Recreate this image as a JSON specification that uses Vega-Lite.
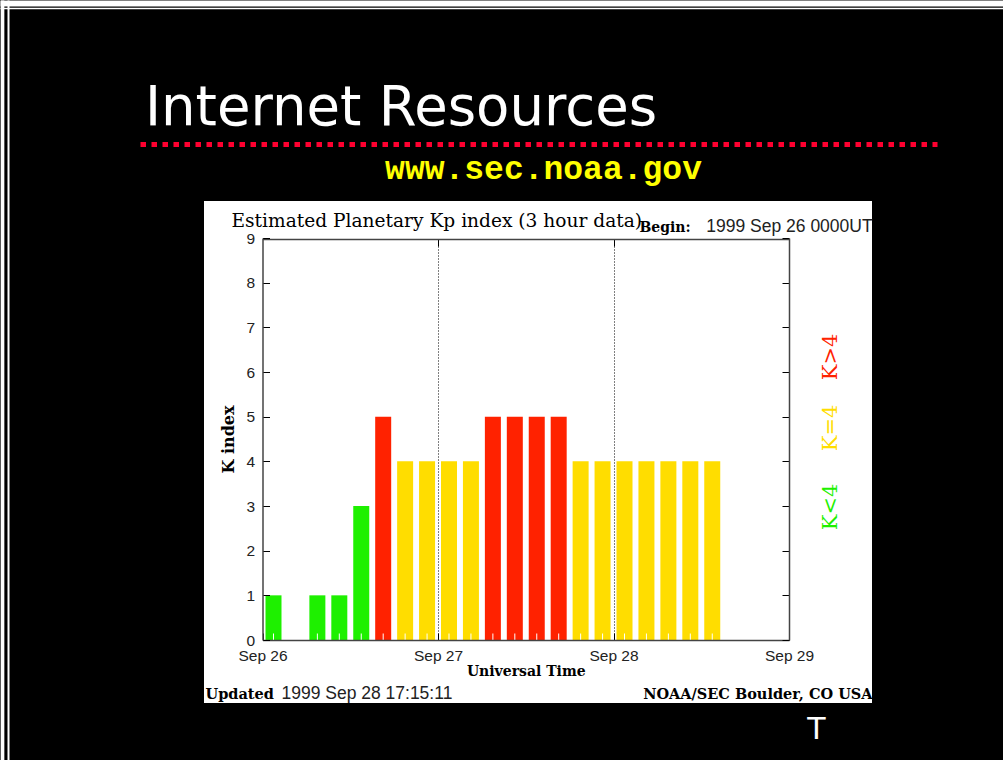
{
  "$schema": "https://vega.github.io/schema/vega-lite/v6.json",
  "width": 668,
  "height": 502,
  "autosize": {"type": "none"},
  "padding": {"left": 204, "top": 201, "right": 131, "bottom": 57},
  "background": "black",
  "title": {"text": "Internet Resources", "anchor": "start", "frame": "group", "dx": -59, "offset": 8, "font": "DejaVu Sans", "fontSize": 54.5, "fontWeight": "normal", "color": "white"},
  "config": {
    "view": {"fill": "white", "stroke": null},
    "axis": {"labelOverlap": false, "labelFlush": false, "labelLimit": 0, "titleLimit": 0, "labelBound": false}
  },
  "data": {"values": [
    {"time": "1999-09-26T00:00:00Z", "kp": 1},
    {"time": "1999-09-26T03:00:00Z", "kp": 0},
    {"time": "1999-09-26T06:00:00Z", "kp": 1},
    {"time": "1999-09-26T09:00:00Z", "kp": 1},
    {"time": "1999-09-26T12:00:00Z", "kp": 3},
    {"time": "1999-09-26T15:00:00Z", "kp": 5},
    {"time": "1999-09-26T18:00:00Z", "kp": 4},
    {"time": "1999-09-26T21:00:00Z", "kp": 4},
    {"time": "1999-09-27T00:00:00Z", "kp": 4},
    {"time": "1999-09-27T03:00:00Z", "kp": 4},
    {"time": "1999-09-27T06:00:00Z", "kp": 5},
    {"time": "1999-09-27T09:00:00Z", "kp": 5},
    {"time": "1999-09-27T12:00:00Z", "kp": 5},
    {"time": "1999-09-27T15:00:00Z", "kp": 5},
    {"time": "1999-09-27T18:00:00Z", "kp": 4},
    {"time": "1999-09-27T21:00:00Z", "kp": 4},
    {"time": "1999-09-28T00:00:00Z", "kp": 4},
    {"time": "1999-09-28T03:00:00Z", "kp": 4},
    {"time": "1999-09-28T06:00:00Z", "kp": 4},
    {"time": "1999-09-28T09:00:00Z", "kp": 4},
    {"time": "1999-09-28T12:00:00Z", "kp": 4}
  ]},
  "layer": [
    {
      "mark": {"type": "bar", "width": 16, "xOffset": 11},
      "encoding": {
        "x": {"field": "time", "type": "temporal",
          "scale": {"type": "utc", "domain": [{"year": 1999, "month": 9, "date": 26, "utc": true}, {"year": 1999, "month": 9, "date": 29, "utc": true}], "range": [58.5, 585], "nice": false, "padding": 0},
          "axis": {"orient": "bottom", "offset": -63,
            "values": [{"year": 1999, "month": 9, "date": 26, "utc": true}, {"year": 1999, "month": 9, "date": 27, "utc": true}, {"year": 1999, "month": 9, "date": 28, "utc": true}, {"year": 1999, "month": 9, "date": 29, "utc": true}],
            "labelExpr": "utcFormat(datum.value, '%b %d')",
            "tickSize": -7, "tickColor": "black", "tickWidth": 1,
            "domainColor": "#444", "domainWidth": 1.5,
            "labelFont": "Liberation Sans", "labelFontSize": 15.5, "labelColor": "#222", "labelPadding": 15,
            "grid": false,
            "title": "Universal Time", "titleFont": "DejaVu Serif", "titleFontSize": 14, "titleFontWeight": "bold", "titleColor": "black", "titlePadding": 1,
            "zindex": 1}},
        "y": {"field": "kp", "type": "quantitative",
          "scale": {"domain": [0, 9], "range": [439, 37], "nice": false, "padding": 0},
          "axis": {"orient": "left", "offset": -58.5, "values": [0, 1, 2, 3, 4, 5, 6, 7, 8, 9],
            "tickSize": -7, "tickColor": "black",
            "domainColor": "#444", "domainWidth": 1.5,
            "labelFont": "Liberation Sans", "labelFontSize": 15.5, "labelColor": "#222", "labelPadding": 15,
            "grid": false,
            "title": "K index", "titleFont": "DejaVu Serif", "titleFontSize": 16, "titleFontWeight": "bold", "titleColor": "black", "titlePadding": 9,
            "zindex": 1}},
        "color": {"condition": [{"test": "datum.kp > 4", "value": "#ff2200"}, {"test": "datum.kp == 4", "value": "#ffdd00"}], "value": "#1ef000"}
      }
    },
    {
      "mark": {"type": "tick", "orient": "vertical", "color": "white", "size": 13, "thickness": 1, "xOffset": 11, "opacity": 1},
      "encoding": {
        "x": {"field": "time", "type": "temporal",
          "scale": {"type": "utc", "domain": [{"year": 1999, "month": 9, "date": 26, "utc": true}, {"year": 1999, "month": 9, "date": 29, "utc": true}], "range": [58.5, 585], "nice": false, "padding": 0},
          "axis": {"orient": "top", "offset": -38,
            "values": [{"year": 1999, "month": 9, "date": 27, "utc": true}, {"year": 1999, "month": 9, "date": 28, "utc": true}, {"year": 1999, "month": 9, "date": 28, "hours": 3, "minutes": 29, "utc": true}, {"year": 1999, "month": 9, "date": 28, "hours": 12, "minutes": 37, "utc": true}],
            "tickSize": -7, "tickColor": "black",
            "tickOpacity": {"condition": {"test": "datum.value > utc(1999,8,28,1)", "value": 0}, "value": 1},
            "domainColor": "#444", "domainWidth": 1.5,
            "grid": true, "gridColor": "black", "gridDash": [1, 2], "gridWidth": 1,
            "gridOpacity": {"condition": {"test": "datum.value > utc(1999,8,28,1)", "value": 0}, "value": 1},
            "labelExpr": "datum.value > utc(1999,8,28,12) ? '1999 Sep 26 0000UT' : datum.value > utc(1999,8,28,1) ? 'Begin:' : ''",
            "labelAlign": "left", "labelBaseline": "alphabetic", "labelPadding": 15,
            "labelFont": {"condition": {"test": "datum.value > utc(1999,8,28,12)", "value": "Liberation Sans"}, "value": "DejaVu Serif"},
            "labelFontSize": {"condition": {"test": "datum.value > utc(1999,8,28,12)", "value": 17.5}, "value": 14},
            "labelFontWeight": {"condition": {"test": "datum.value > utc(1999,8,28,12)", "value": "normal"}, "value": "bold"},
            "labelColor": {"condition": {"test": "datum.value > utc(1999,8,28,12)", "value": "#222"}, "value": "black"},
            "title": "Estimated Planetary Kp index (3 hour data)", "titleX": 27, "titleY": -13, "titleAlign": "left", "titleBaseline": "alphabetic", "titleAngle": 0,
            "titleFont": "DejaVu Serif", "titleFontSize": 18.6, "titleFontWeight": "normal", "titleColor": "black",
            "zindex": 1}},
        "y": {"datum": 0, "type": "quantitative",
          "scale": {"domain": [0, 9], "range": [439, 37], "nice": false, "padding": 0},
          "axis": {"orient": "right", "offset": -83, "values": [0, 1, 2, 3, 4, 5, 6, 7, 8, 9, 2.99, 4.76, 6.35],
            "tickSize": -7, "tickColor": "black",
            "tickOpacity": {"condition": {"test": "datum.value % 1 == 0", "value": 1}, "value": 0},
            "domainColor": "#444", "domainWidth": 1.5,
            "labelExpr": "datum.value == 6.35 ? 'K>4' : datum.value == 4.76 ? 'K=4' : datum.value == 2.99 ? 'K<4' : ''",
            "labelAngle": -90, "labelAlign": "center", "labelBaseline": "middle", "labelPadding": 48,
            "labelFont": "DejaVu Serif", "labelFontSize": 21,
            "labelColor": {"condition": [{"test": "datum.value == 6.35", "value": "#ff2200"}, {"test": "datum.value == 4.76", "value": "#ffdd00"}], "value": "#1ef000"},
            "grid": false,
            "title": "T", "titleAngle": 0, "titleX": 27, "titleY": 528, "titleAlign": "center", "titleBaseline": "middle",
            "titleFont": "DejaVu Sans", "titleFontSize": 30, "titleFontWeight": "normal", "titleColor": "white",
            "zindex": 1}}
      }
    },
    {
      "mark": {"type": "point", "opacity": 0},
      "encoding": {
        "x": {"field": "time", "type": "temporal",
          "scale": {"type": "utc", "domain": [{"year": 1999, "month": 9, "date": 26, "utc": true}, {"year": 1999, "month": 9, "date": 29, "utc": true}], "range": [-64, 733], "nice": false, "padding": 0},
          "axis": {"orient": "bottom", "offset": -559, "domain": true, "domainColor": "#ff0030", "domainWidth": 5, "domainDash": [5.5, 5.5],
            "ticks": false, "labels": false, "grid": false,
            "title": "www.sec.noaa.gov", "titleFont": "Liberation Mono", "titleFontSize": 33, "titleFontWeight": "bold", "titleColor": "#ffff00",
            "titlePadding": 8, "titleX": 339, "titleAlign": "center", "titleBaseline": "top"}}
      }
    },
    {
      "mark": {"type": "point", "opacity": 0},
      "encoding": {
        "x": {"field": "time", "type": "temporal",
          "scale": {"type": "utc", "domain": [{"year": 1999, "month": 9, "date": 26, "utc": true}, {"year": 1999, "month": 9, "date": 29, "utc": true}], "range": [-204, 799], "nice": false, "padding": 0},
          "axis": {"orient": "top", "offset": -512,
            "values": [{"year": 1999, "month": 9, "date": 26, "hours": 0, "minutes": 8, "utc": true}, {"year": 1999, "month": 9, "date": 26, "hours": 0, "minutes": 33, "utc": true}, {"year": 1999, "month": 9, "date": 26, "hours": 14, "minutes": 43, "utc": true}, {"year": 1999, "month": 9, "date": 26, "hours": 20, "minutes": 10, "utc": true}, {"year": 1999, "month": 9, "date": 28, "hours": 14, "minutes": 36, "utc": true}],
            "domain": false, "ticks": false,
            "grid": true, "gridColor": "white",
            "gridWidth": {"condition": {"test": "datum.value < utc(1999,8,26,0,20)", "value": 3.7}, "value": 2},
            "gridOpacity": {"condition": {"test": "datum.value < utc(1999,8,26,1)", "value": 1}, "value": 0},
            "labelExpr": "datum.value < utc(1999,8,26,1) ? '' : datum.value < utc(1999,8,26,16) ? 'Updated' : datum.value < utc(1999,8,27) ? '1999 Sep 28 17:15:11' : 'NOAA/SEC Boulder, CO USA'",
            "labelAlign": {"condition": {"test": "datum.value > utc(1999,8,27)", "value": "right"}, "value": "left"},
            "labelBaseline": "alphabetic", "labelPadding": 15,
            "labelFont": {"condition": {"test": "datum.value > utc(1999,8,26,16) && datum.value < utc(1999,8,27)", "value": "Liberation Sans"}, "value": "DejaVu Serif"},
            "labelFontSize": {"condition": {"test": "datum.value > utc(1999,8,26,16) && datum.value < utc(1999,8,27)", "value": 17.5}, "value": 14.5},
            "labelFontWeight": {"condition": {"test": "datum.value > utc(1999,8,26,16) && datum.value < utc(1999,8,27)", "value": "normal"}, "value": "bold"},
            "labelColor": {"condition": {"test": "datum.value > utc(1999,8,26,16) && datum.value < utc(1999,8,27)", "value": "#222"}, "value": "black"},
            "title": null}},
        "y": {"field": "kp", "type": "quantitative",
          "scale": {"domain": [0, 9], "range": [559, -201], "nice": false, "zero": false, "padding": 0},
          "axis": {"orient": "left", "values": [8.9645, 8.9035], "domain": false, "ticks": false, "labels": false,
            "grid": true, "gridColor": "white",
            "gridWidth": {"condition": {"test": "datum.value > 8.94", "value": 6}, "value": 1.7},
            "title": null}}
      }
    }
  ],
  "resolve": {"scale": {"x": "independent", "y": "independent"}, "axis": {"x": "independent", "y": "independent"}}
}
